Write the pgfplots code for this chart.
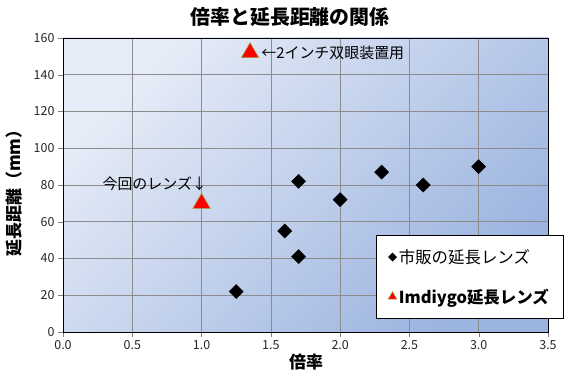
\documentclass[border=0pt]{standalone}
\usepackage{pgfplots}
\pgfplotsset{compat=1.18}
\usepackage{fontspec}
\setmainfont{Noto Sans CJK JP}
\definecolor{bgA}{HTML}{E6ECF7}
\definecolor{bgB}{HTML}{9CB4E0}
\definecolor{triedge}{HTML}{9AA040}
\begin{document}
\begin{tikzpicture}
\path[use as bounding box] (-63bp,-44bp) rectangle (516bp,332bp);
\begin{axis}[
  at={(0,0)}, anchor=south west,
  scale only axis, width=485bp, height=294bp,
  xmin=0, xmax=3.5, ymin=0, ymax=160,
  xtick={0,0.5,...,3.5}, ytick={0,20,...,160},
  xticklabel style={/pgf/number format/.cd, fixed, fixed zerofill, precision=1},
  /pgf/number format/assume math mode=true,
  tick label style={font=\fontsize{12.5}{14}\selectfont, text=black!85},
  tick align=outside, major tick length=5bp,
  xtick pos=bottom, ytick pos=left,
  grid=major, major grid style={draw=gray!90, line width=0.6bp},
  axis line style={black, line width=0.7bp},
  axis background/.style={top color=bgA, bottom color=bgB, shading angle=45},
  clip=false,
  legend style={at={(rel axis cs:0.645,0.33)}, anchor=north west,
    draw=black, fill=white, line width=0.7bp, inner xsep=12bp, inner ysep=12bp,
    row sep=20bp, font=\fontsize{16.5}{18}\selectfont},
  legend cell align=left,
]
\addplot[only marks, mark=square*, mark size=5bp, mark options={rotate=45, fill=black, draw=black},
  legend image code/.code={\draw[mark=square*, mark size=2.8bp, mark options={rotate=45, fill=black, draw=black}] plot coordinates {(0.25cm,0cm)};}]
  coordinates {(1.25,22) (1.6,55) (1.7,82) (1.7,41) (2.0,72) (2.3,87) (2.6,80) (3.0,90)};
\addlegendentry{市販の延長レンズ}
\addplot[only marks, mark=triangle*, mark size=10bp, mark options={fill=red, draw=triedge, line width=0.6bp},
  legend image code/.code={\draw[mark=triangle*, mark size=5bp, mark options={fill=red, draw=triedge, line width=0.5bp}] plot coordinates {(0.25cm,0cm)};}]
  coordinates {(1.0,70) (1.35,152)};
\addlegendentry{\bfseries Imdiygo延長レンズ}
\node[anchor=west, font=\fontsize{15}{17}\selectfont, inner sep=0pt] at (axis cs:1.43,152) {←2インチ双眼装置用};
\node[anchor=east, font=\fontsize{15}{17}\selectfont, inner sep=0pt] at (axis cs:1.04,80.5) {今回のレンズ↓};
\end{axis}
\node[font=\fontsize{20}{22}\selectfont\bfseries] at (227bp,315bp) {倍率と延長距離の関係};
\node[font=\fontsize{17}{19}\selectfont\bfseries, rotate=90] at (-49bp,143bp) {延長距離（mm）};
\node[font=\fontsize{17}{19}\selectfont\bfseries] at (243bp,-30bp) {倍率};
\end{tikzpicture}
\end{document}
